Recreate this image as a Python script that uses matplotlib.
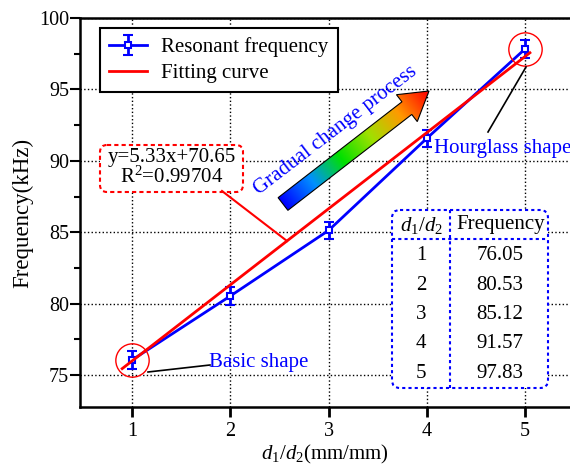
import numpy as np
import matplotlib
matplotlib.use('Agg')
import matplotlib.pyplot as plt
from matplotlib.patches import FancyBboxPatch, Polygon
from matplotlib.colors import LinearSegmentedColormap

plt.rcParams['font.family'] = ['Liberation Serif', 'DejaVu Serif']
plt.rcParams['mathtext.fontset'] = 'custom'
plt.rcParams['mathtext.rm'] = 'Liberation Serif'
plt.rcParams['mathtext.it'] = 'Liberation Serif:italic'

# 数据
ratio = [1, 2, 3, 4, 5]
freq = [76.05, 80.53, 85.12, 91.57, 97.83]
freq_err = [0.6, 0.6, 0.6, 0.6, 0.6]
slope, intercept, r2 = 5.33, 70.65, 0.99704
fit_x = np.array([0.9, 5.05])
table_rows = [('1', '76.05'), ('2', '80.53'), ('3', '85.12'), ('4', '91.57'), ('5', '97.83')]

W, H = 570, 470
fs = 15
fig = plt.figure(figsize=(W / 100, H / 100), dpi=100)
ax = fig.add_axes([80 / W, (H - 407) / H, 490 / W, 389 / H])

eb = ax.errorbar(ratio, freq, yerr=freq_err, color='#0000ff', lw=2, marker='s', ms=5,
                 mfc='white', mec='#0000ff', mew=1.5, capsize=3.5, capthick=1.5,
                 label='Resonant frequency', zorder=2)
fit, = ax.plot(fit_x, slope * fit_x + intercept, color='#ff0000', lw=2,
               label='Fitting curve', zorder=3)
# 标记两端形状的圆圈
ax.plot([ratio[0], ratio[-1]], [freq[0], freq[-1]], 'o', ms=24, mfc='none',
        mec='#ff0000', mew=1, zorder=4)

ax.set_xlim(0.4707, 5.458)
ax.set_ylim(72.76, 100)
ax.set_xticks(ratio)
ax.set_yticks([75, 80, 85, 90, 95, 100])
ax.set_yticks(np.arange(77.5, 100, 5), minor=True)
ax.tick_params(axis='both', direction='out', width=1.5, labelsize=14.5)
ax.tick_params(axis='y', which='major', length=7, pad=1)
ax.tick_params(axis='y', which='minor', length=4, width=1.5)
ax.tick_params(axis='x', length=7, width=2)
ax.grid(True, linestyle=':', color='k', lw=1)
for s in ['left', 'bottom', 'top']:
    ax.spines[s].set_linewidth(1.8)
ax.spines['right'].set_visible(False)
ax.set_xlabel(r'$\mathit{d}_1/\mathit{d}_2$(mm/mm)', fontsize=15, labelpad=2)
ax.set_ylabel('Frequency(kHz)', fontsize=16.5, labelpad=4)

leg = ax.legend([eb, fit], ['Resonant frequency', 'Fitting curve'],
                loc='upper left', bbox_to_anchor=(100 / W, 1 - 28 / H),
                bbox_transform=fig.transFigure, fontsize=fs, fancybox=False,
                edgecolor='k', framealpha=1, borderaxespad=0, handlelength=1.8,
                handletextpad=0.7, borderpad=0.45, labelspacing=0.3)
leg.get_frame().set_linewidth(1.5)

# 像素坐标的注释层
ov = fig.add_axes([0, 0, 1, 1], zorder=5)
ov.set_xlim(0, W)
ov.set_ylim(H, 0)
ov.axis('off')
ov.patch.set_alpha(0)

# 渐变箭头
tail = np.array([283.0, 204.0])
tip = np.array([429.0, 91.0])
L = np.linalg.norm(tip - tail)
u = (tip - tail) / L
n = np.array([u[1], -u[0]])
bw, hw, hl = 8, 17, 28
base = tip - u * hl
pts = [tail + n * bw, base + n * bw, base + n * hw, tip,
       base - n * hw, base - n * bw, tail - n * bw]
arrow = Polygon(pts, closed=True, fc='none', ec='k', lw=0.8, zorder=6)
ov.add_patch(arrow)
xs = np.linspace(260, 450, 300)
ys = np.linspace(70, 225, 300)
X, Y = np.meshgrid(xs, ys)
Z = ((X - tail[0]) * u[0] + (Y - tail[1]) * u[1]) / L
cmap = LinearSegmentedColormap.from_list(
    'grad', ['#0000ff', '#0090ff', '#00e000', '#a0e000', '#ff9900', '#ff0000'])
im = ov.imshow(Z, extent=(260, 450, 225, 70), origin='upper', cmap=cmap,
               vmin=0, vmax=1, aspect='auto', zorder=5)
im.set_clip_path(arrow)
ov.set_xlim(0, W)
ov.set_ylim(H, 0)
ov.text(336, 131, 'Gradual change process', color='#0000ff', fontsize=fs,
        rotation=37.5, ha='center', va='center')

# 拟合公式
ov.add_patch(FancyBboxPatch((100, 145), 143, 47, boxstyle='round,pad=0,rounding_size=7',
                            fc='white', ec='#ff0000', ls=(0, (2, 1.5)), lw=1.5, zorder=6))
ov.text(172, 168, f'y={slope}x+{intercept}\nR$^2$={r2}', fontsize=fs,
        ha='center', va='center', linespacing=0.95, zorder=7)
ov.plot([222, 287], [191, 241], color='#ff0000', lw=1.5, zorder=6)

# 形状标注
ov.plot([148, 210], [372, 365], color='k', lw=1.2)
ov.text(209, 362, 'Basic shape', color='#0000ff', fontsize=fs, va='center')
ov.plot([526, 488], [67, 132], color='k', lw=1.2)
ov.text(434, 148, 'Hourglass shape', color='#0000ff', fontsize=fs, va='center')

# 数据表
tb = dict(color='#0000ff', ls=(0, (1.5, 1.5)), lw=1.5)
ov.add_patch(FancyBboxPatch((392, 210), 156, 178, boxstyle='round,pad=0,rounding_size=8',
                            fc='white', ec='#0000ff', ls=(0, (1.5, 1.5)), lw=1.5, zorder=6))
ov.plot([392, 548], [239, 239], zorder=7, **tb)
ov.plot([450, 450], [210, 388], zorder=7, **tb)
ov.text(421, 225, r'$\mathit{d}_1/\mathit{d}_2$', fontsize=fs, ha='center', va='center', zorder=8)
ov.text(501, 225, 'Frequency', fontsize=fs, ha='center', va='center', zorder=8)
for i, (a, b) in enumerate(table_rows):
    y = 256 + i * 29.3
    ov.text(421, y, a, fontsize=fs, ha='center', va='center', zorder=8)
    ov.text(500, y, b, fontsize=fs, ha='center', va='center', zorder=8)

fig.savefig('out.png', dpi=100)
